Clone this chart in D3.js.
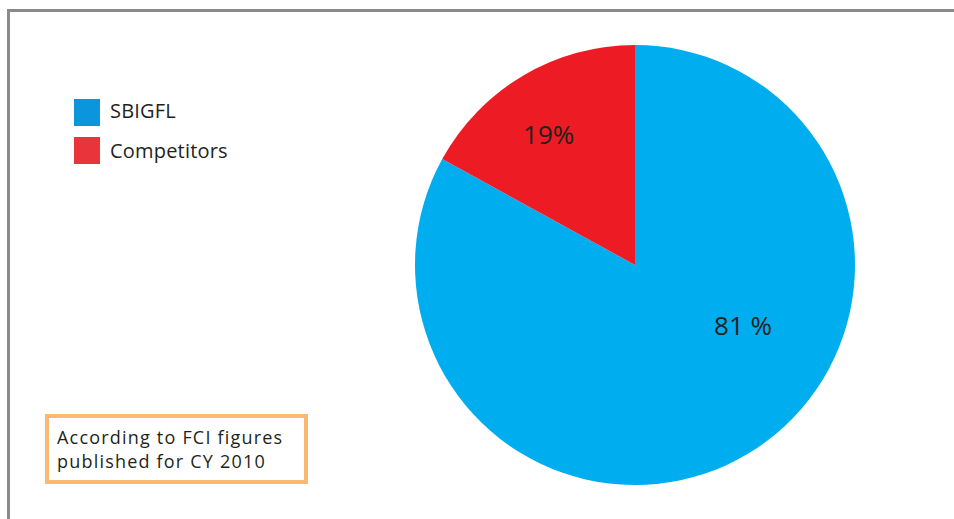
<!DOCTYPE html>
<html>
<head>
<meta charset="utf-8">
<script src="https://cdn.jsdelivr.net/npm/d3@7"></script>
<style>
  body { margin: 0; background: #fff; }
  text { font-family: "Open Sans", "DejaVu Sans", sans-serif; fill: #231f20; }
</style>
</head>
<body>
<div id="chart"></div>
<script>
// data
const categories = ["SBIGFL", "Competitors"];
const shares = [83, 17];              // slice sizes as drawn
const shareLabels = ["81 %", "19%"];  // printed labels
const sliceColors = ["#00aeef", "#ed1c24"];
const legendColors = ["#0a95dc", "#e8343a"];
const noteLines = ["According to FCI figures", "published for CY 2010"];

const width = 954;
const height = 519;

const svg = d3.select("#chart")
  .append("svg")
  .attr("width", width)
  .attr("height", height);

// frame (top + left rule)
svg.append("path")
  .attr("d", `M8.5,${height} V10.5 H${width}`)
  .attr("fill", "none")
  .attr("stroke", "#8a8a8a")
  .attr("stroke-width", 3);

// pie
const cx = 635, cy = 265, radius = 220;
const pie = d3.pie().sort(null).value(d => d);
const arc = d3.arc().innerRadius(0).outerRadius(radius);
const arcs = pie(shares);

const g = svg.append("g").attr("transform", `translate(${cx}, ${cy})`);
g.selectAll("path")
  .data(arcs)
  .enter()
  .append("path")
  .attr("d", arc)
  .attr("fill", (d, i) => sliceColors[i]);

// label placement: [angle offset from slice middle (deg), radius]
const labelPlace = [[-30, 124], [-3, 156]];
g.selectAll(".lbl")
  .data(arcs)
  .enter()
  .append("text")
  .attr("class", "lbl")
  .attr("transform", (d, i) => {
    const a = (d.startAngle + d.endAngle) / 2 + labelPlace[i][0] * Math.PI / 180;
    const r = labelPlace[i][1];
    return `translate(${r * Math.sin(a)}, ${-r * Math.cos(a)})`;
  })
  .attr("text-anchor", "middle")
  .attr("dy", "0.35em")
  .attr("font-size", 26)
  .text((d, i) => shareLabels[i]);

// legend
const legend = svg.append("g").attr("transform", "translate(74, 99)");
const item = legend.selectAll("g")
  .data(categories)
  .enter()
  .append("g")
  .attr("transform", (d, i) => `translate(0, ${i * 38})`);
item.append("rect")
  .attr("width", 26)
  .attr("height", 27)
  .attr("fill", (d, i) => legendColors[i]);
item.append("text")
  .attr("x", 36)
  .attr("y", (d, i) => 19 + i * 2)
  .attr("font-size", 20)
  .attr("letter-spacing", 0.2)
  .text(d => d);

// note box
svg.append("rect")
  .attr("x", 47)
  .attr("y", 416)
  .attr("width", 259)
  .attr("height", 66)
  .attr("fill", "#fff")
  .attr("stroke", "#fbb870")
  .attr("stroke-width", 4);
svg.append("g")
  .selectAll("text")
  .data(noteLines)
  .enter()
  .append("text")
  .attr("x", 57)
  .attr("y", (d, i) => 444 + i * 24)
  .attr("font-size", 18)
  .attr("letter-spacing", 1.2)
  .text(d => d);
</script>
</body>
</html>
